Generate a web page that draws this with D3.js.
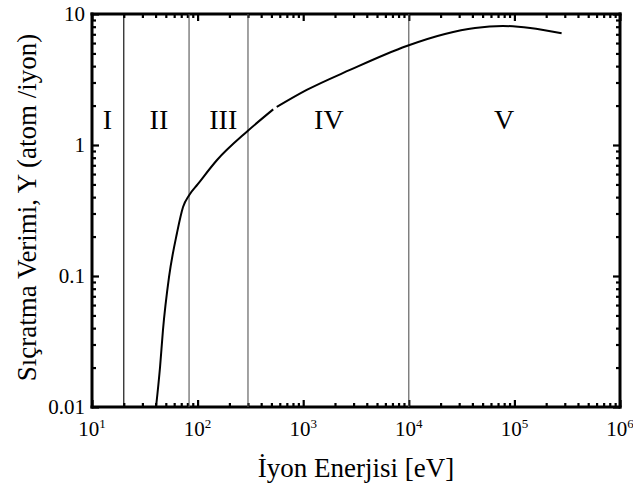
<!DOCTYPE html>
<html>
<head>
<meta charset="utf-8">
<script src="https://cdn.jsdelivr.net/npm/d3@7"></script>
<style>
  body { margin: 0; background: #fff; overflow: hidden; }
  svg { display: block; }
</style>
</head>
<body>
<div class="chart"></div>
<script>
// sputtering yield curve, null marks the small break in the line
var energy = [40.4, 44.1, 47, 53.6, 63.8, 72.8, 83.4, 100, 152.8, 298, 520, null, 562, 1080, 2773, 9550, 22000, 42400, 77600, 141000, 280000];
var yieldY = [0.01, 0.0202, 0.0387, 0.098, 0.213, 0.336, 0.415, 0.5, 0.768, 1.28, 1.87, null, 1.95, 2.63, 3.74, 5.7, 7.04, 7.82, 8.1, 7.82, 7.12];

// region borders and region names
var regionEdges = [20, 83, 300, 10000];
var regionNames = ["I", "II", "III", "IV", "V"];
var regionNameAt = [14, 43, 175, 1750, 80000];
var regionNameY = 1.32;

// tick labels
var xTickExp = [1, 2, 3, 4, 5, 6];
var yTickValues = [0.01, 0.1, 1, 10];
var yTickLabels = ["0.01", "0.1", "1", "10"];

var fontName = "Liberation Serif";
var plot = {left: 92, right: 620, top: 14, bottom: 407};

var svg = d3.select(".chart")
  .append("svg")
  .attr("width", 633)
  .attr("height", 488);

var xScale = d3.scaleLog().domain([10, 1e6]).range([plot.left, plot.right]);
var yScale = d3.scaleLog().domain([0.01, 10]).range([plot.bottom, plot.top]);

function isMajor(v) {
  var l = Math.log10(v);
  return Math.abs(l - Math.round(l)) < 1e-6;
}

// inward ticks on all four sides, drawn with d3 axes and no labels
var axisSpecs = [
  {axis: d3.axisBottom(xScale), at: `translate(0, ${plot.bottom})`, sign: -1},
  {axis: d3.axisTop(xScale), at: `translate(0, ${plot.top})`, sign: -1},
  {axis: d3.axisLeft(yScale), at: `translate(${plot.left}, 0)`, sign: -1},
  {axis: d3.axisRight(yScale), at: `translate(${plot.right}, 0)`, sign: -1}
];
axisSpecs.forEach(function(s) {
  var g = svg.append("g")
    .attr("transform", s.at)
    .call(s.axis.ticks(10).tickSizeOuter(0).tickFormat(""));
  g.select(".domain").remove();
  g.selectAll(".tick line")
    .attr("stroke", "#000")
    .attr("stroke-width", 2.2)
    .each(function(d) {
      var len = isMajor(d) ? 7 : 4;
      var el = d3.select(this);
      if (el.attr("y2") !== null) el.attr("y2", s.axis === axisSpecs[0].axis ? -len : len);
      if (el.attr("x2") !== null) el.attr("x2", s.axis === axisSpecs[2].axis ? len : -len);
    });
});

// frame as four thick lines
var frame = [
  [plot.left, plot.top, plot.right, plot.top],
  [plot.right, plot.top, plot.right, plot.bottom],
  [plot.right, plot.bottom, plot.left, plot.bottom],
  [plot.left, plot.bottom, plot.left, plot.top]
];
svg.selectAll(".frame")
  .data(frame)
  .enter()
  .append("line")
  .attr("class", "frame")
  .attr("x1", d => d[0]).attr("y1", d => d[1])
  .attr("x2", d => d[2]).attr("y2", d => d[3])
  .attr("stroke", "#000")
  .attr("stroke-width", 3)
  .attr("stroke-linecap", "square");

// region borders
svg.selectAll(".edge")
  .data(regionEdges)
  .enter()
  .append("line")
  .attr("class", "edge")
  .attr("x1", d => xScale(d))
  .attr("x2", d => xScale(d))
  .attr("y1", plot.top)
  .attr("y2", plot.bottom)
  .attr("stroke", (d, i) => i === 0 ? "#000" : "#555")
  .attr("stroke-width", 1.1);

// the curve
var line = d3.line()
  .defined(d => d[0] !== null)
  .x(d => xScale(d[0]))
  .y(d => yScale(d[1]))
  .curve(d3.curveMonotoneX);

svg.append("path")
  .datum(energy.map((e, i) => [e, yieldY[i]]))
  .attr("d", line)
  .attr("fill", "none")
  .attr("stroke", "#000")
  .attr("stroke-width", 2);

// region names
svg.selectAll(".region")
  .data(regionNames)
  .enter()
  .append("text")
  .attr("class", "region")
  .attr("x", (d, i) => xScale(regionNameAt[i]))
  .attr("y", yScale(regionNameY))
  .attr("text-anchor", "middle")
  .attr("font-family", fontName)
  .attr("font-size", 28)
  .text(d => d);

// x tick labels as 10 with a raised exponent
var xLabels = svg.selectAll(".xlab")
  .data(xTickExp)
  .enter()
  .append("text")
  .attr("class", "xlab")
  .attr("x", d => xScale(Math.pow(10, d)))
  .attr("y", plot.bottom + 29)
  .attr("text-anchor", "middle")
  .attr("font-family", fontName)
  .attr("font-size", 21);
xLabels.append("tspan").text("10");
xLabels.append("tspan")
  .attr("dy", -8)
  .attr("font-size", 13)
  .text(d => d);

// y tick labels
svg.selectAll(".ylab")
  .data(yTickValues)
  .enter()
  .append("text")
  .attr("class", "ylab")
  .attr("x", plot.left - 7)
  .attr("y", d => yScale(d) + 7)
  .attr("text-anchor", "end")
  .attr("font-family", fontName)
  .attr("font-size", 21)
  .text((d, i) => yTickLabels[i]);

// axis titles
svg.append("text")
  .attr("x", (plot.left + plot.right) / 2)
  .attr("y", 477)
  .attr("text-anchor", "middle")
  .attr("font-family", fontName)
  .attr("font-size", 27)
  .text("İyon Enerjisi [eV]");

svg.append("text")
  .attr("transform", `translate(36, ${(plot.top + plot.bottom) / 2 - 3}) rotate(-90)`)
  .attr("text-anchor", "middle")
  .attr("font-family", fontName)
  .attr("font-size", 27)
  .text("Sıçratma Verimi, Y (atom /iyon)");
</script>
</body>
</html>
